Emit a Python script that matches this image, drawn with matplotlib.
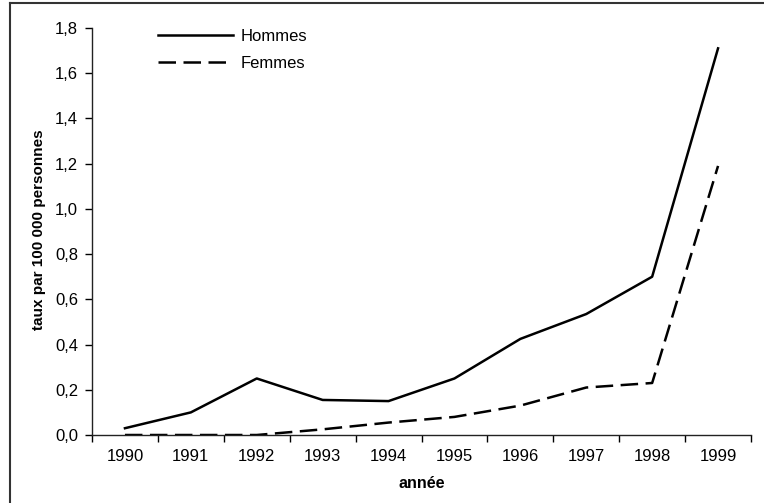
import matplotlib.pyplot as plt
from matplotlib.lines import Line2D
from matplotlib.ticker import FuncFormatter, FixedLocator
import numpy as np

plt.rcParams['font.family'] = ['Liberation Sans', 'DejaVu Sans']

annees = ['1990', '1991', '1992', '1993', '1994', '1995', '1996', '1997', '1998', '1999']
hommes = [0.03, 0.10, 0.25, 0.155, 0.15, 0.25, 0.425, 0.535, 0.70, 1.71]
femmes = [0.0, 0.0, 0.0, 0.025, 0.055, 0.08, 0.13, 0.21, 0.23, 1.19]

fig = plt.figure(figsize=(7.64, 5.03), dpi=100)
ax = fig.add_axes([92/764, 1-435/503, (751-92)/764, (435-28)/503])

x = np.arange(len(annees))
lw = 1.8
ax.plot(x, hommes, color='black', lw=lw, label='Hommes')
ax.plot(x, femmes, color='black', lw=lw, dashes=(7, 3), label='Femmes')

ax.set_xlim(-0.5, len(annees) - 0.5)
ax.set_ylim(0, 1.8)
ax.set_xticks(x)
ax.set_xticklabels(annees, fontsize=12)
ax.xaxis.set_minor_locator(FixedLocator(np.arange(-0.5, len(annees), 1)))
ax.tick_params(axis='x', which='major', length=0, pad=10)
ax.tick_params(axis='x', which='minor', length=5, width=1, direction='out')
ax.set_yticks(np.arange(0, 1.81, 0.2))
ax.yaxis.set_major_formatter(FuncFormatter(lambda v, p: f'{v:.1f}'.replace('.', ',')))
ax.tick_params(axis='y', length=5, width=1, labelsize=12, pad=5)

for s in ['top', 'right']:
    ax.spines[s].set_visible(False)
ax.spines['left'].set_linewidth(1)
ax.spines['bottom'].set_linewidth(1)
ax.spines['left'].set_color('#222222')
ax.spines['bottom'].set_color('#222222')

ax.set_xlabel('année', fontsize=11.5, fontweight='bold')
ax.xaxis.set_label_coords(0.5, -0.1)
ax.set_ylabel('taux par 100 000 personnes', fontsize=11, fontweight='bold')
ax.yaxis.set_label_coords(-0.07, 0.505)

leg = ax.legend(loc='upper left', bbox_to_anchor=(0.078, 1.035), frameon=False,
                fontsize=12, handlelength=4.5, handletextpad=0.42, labelspacing=0.75)

# cadre du graphique (coupe a droite et en bas)
fig.add_artist(Line2D([10/764, 10/764], [0, 1-3/503], color='#333333', lw=1.5, transform=fig.transFigure))
fig.add_artist(Line2D([10/764, 1], [1-3/503, 1-3/503], color='#333333', lw=1.5, transform=fig.transFigure))

fig.savefig('out.png', dpi=100)
